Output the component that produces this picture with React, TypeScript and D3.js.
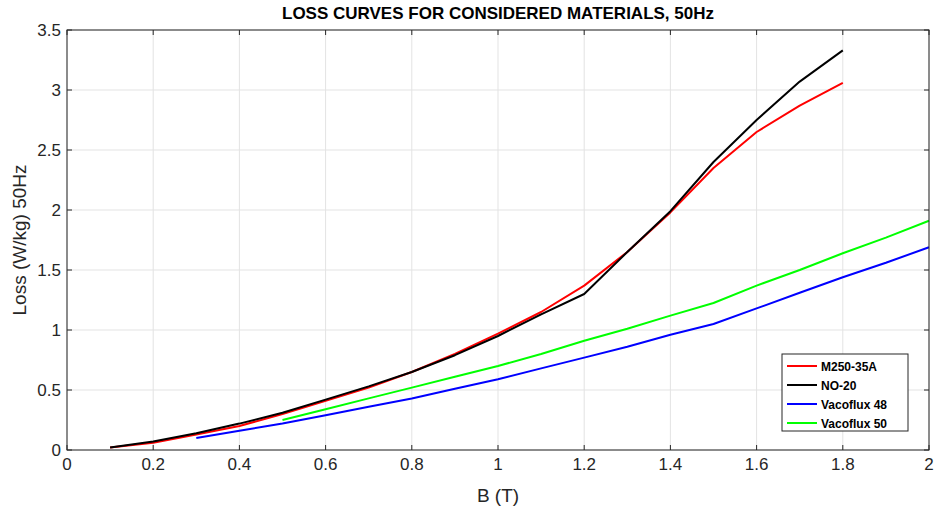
import React from 'react'
import * as d3 from 'd3'

// B (T) values and losses (W/kg)
const bSteel = [0.1, 0.2, 0.3, 0.4, 0.5, 0.6, 0.7, 0.8, 0.9, 1.0, 1.1, 1.2, 1.3, 1.4, 1.5, 1.6, 1.7, 1.8]
const lossM250 = [0.02, 0.06, 0.13, 0.2, 0.3, 0.41, 0.52, 0.65, 0.8, 0.97, 1.15, 1.37, 1.65, 1.98, 2.35, 2.65, 2.87, 3.06]
const lossNO20 = [0.02, 0.07, 0.14, 0.22, 0.31, 0.42, 0.53, 0.65, 0.79, 0.95, 1.13, 1.3, 1.65, 1.99, 2.4, 2.75, 3.07, 3.33]

const bVaco48 = [0.3, 0.4, 0.5, 0.6, 0.7, 0.8, 0.9, 1.0, 1.1, 1.2, 1.3, 1.4, 1.5, 1.6, 1.7, 1.8, 1.9, 2.0]
const lossVaco48 = [0.1, 0.16, 0.22, 0.29, 0.36, 0.43, 0.51, 0.59, 0.68, 0.77, 0.86, 0.96, 1.05, 1.18, 1.31, 1.44, 1.56, 1.69]

const bVaco50 = [0.5, 0.6, 0.7, 0.8, 0.9, 1.0, 1.1, 1.2, 1.3, 1.4, 1.5, 1.6, 1.7, 1.8, 1.9, 2.0]
const lossVaco50 = [0.25, 0.34, 0.43, 0.52, 0.61, 0.7, 0.8, 0.91, 1.01, 1.12, 1.225, 1.37, 1.5, 1.64, 1.77, 1.91]

const xTicks = [0, 0.2, 0.4, 0.6, 0.8, 1, 1.2, 1.4, 1.6, 1.8, 2]
const yTicks = [0, 0.5, 1, 1.5, 2, 2.5, 3, 3.5]

const series = [
  { name: 'M250-35A', color: '#ff0000', x: bSteel, y: lossM250 },
  { name: 'NO-20', color: '#000000', x: bSteel, y: lossNO20 },
  { name: 'Vacoflux 48', color: '#0000ff', x: bVaco48, y: lossVaco48 },
  { name: 'Vacoflux 50', color: '#00ff00', x: bVaco50, y: lossVaco50 },
]

const W = 935
const H = 514
const m = { left: 67, right: 6, top: 30, bottom: 64 }
const font = 'Liberation Sans, Arial, Helvetica, sans-serif'

export default () => {
  const x = d3.scaleLinear().domain([0, 2]).range([m.left, W - m.right])
  const y = d3.scaleLinear().domain([0, 3.5]).range([H - m.bottom, m.top])

  const line = d3
    .line<[number, number]>()
    .x((d) => x(d[0]))
    .y((d) => y(d[1]))

  const fmt = (v: number) => String(v)
  const tk = 5
  const axisColor = '#262626'

  return (
    <svg width={W} height={H} style={{ position: 'absolute', left: 0, top: 0, background: '#fff' }} fontFamily={font}>
      <rect x={0} y={0} width={W} height={H} fill="#fff" />
      {/* grid */}
      {xTicks.map((t) => (
        <line key={'gx' + t} x1={x(t)} x2={x(t)} y1={y(0)} y2={y(3.5)} stroke="#e3e3e3" strokeWidth={1} />
      ))}
      {yTicks.map((t) => (
        <line key={'gy' + t} x1={x(0)} x2={x(2)} y1={y(t)} y2={y(t)} stroke="#e3e3e3" strokeWidth={1} />
      ))}

      {/* lines */}
      {series.map((s) => (
        <path
          key={s.name}
          d={line(s.x.map((v, i) => [v, s.y[i]] as [number, number])) as string}
          fill="none"
          stroke={s.color}
          strokeWidth={2}
          strokeLinejoin="round"
        />
      ))}

      {/* box */}
      <rect x={x(0)} y={y(3.5)} width={x(2) - x(0)} height={y(0) - y(3.5)} fill="none" stroke={axisColor} strokeWidth={1} />

      {/* ticks */}
      {xTicks.map((t) => (
        <g key={'tx' + t}>
          <line x1={x(t)} x2={x(t)} y1={y(0)} y2={y(0) - tk} stroke={axisColor} />
          <line x1={x(t)} x2={x(t)} y1={y(3.5)} y2={y(3.5) + tk} stroke={axisColor} />
          <text x={x(t)} y={y(0) + 20} textAnchor="middle" fontSize={17} fill={axisColor}>
            {fmt(t)}
          </text>
        </g>
      ))}
      {yTicks.map((t) => (
        <g key={'ty' + t}>
          <line x1={x(0)} x2={x(0) + tk} y1={y(t)} y2={y(t)} stroke={axisColor} />
          <line x1={x(2)} x2={x(2) - tk} y1={y(t)} y2={y(t)} stroke={axisColor} />
          <text x={x(0) - 6} y={y(t) + 6} textAnchor="end" fontSize={17} fill={axisColor}>
            {fmt(t)}
          </text>
        </g>
      ))}

      {/* labels */}
      <text x={(x(0) + x(2)) / 2} y={19} textAnchor="middle" fontSize={17} fontWeight="bold" fill="#000">
        LOSS CURVES FOR CONSIDERED MATERIALS, 50Hz
      </text>
      <text x={(x(0) + x(2)) / 2} y={502} textAnchor="middle" fontSize={19} fill={axisColor}>
        B (T)
      </text>
      <text
        transform={`translate(26,${(y(0) + y(3.5)) / 2}) rotate(-90)`}
        textAnchor="middle"
        fontSize={19}
        fill={axisColor}
      >
        Loss (W/kg) 50Hz
      </text>

      {/* legend */}
      <g transform="translate(782,354)">
        <rect x={0} y={0} width={126} height={77} fill="#fff" stroke={axisColor} strokeWidth={1} />
        {series.map((s, i) => (
          <g key={'lg' + s.name} transform={`translate(0,${12 + i * 19})`}>
            <line x1={5} x2={35} y1={0} y2={0} stroke={s.color} strokeWidth={2} />
            <text x={39} y={4.5} fontSize={12} fontWeight="bold" fill="#000">
              {s.name}
            </text>
          </g>
        ))}
      </g>
    </svg>
  )
}
